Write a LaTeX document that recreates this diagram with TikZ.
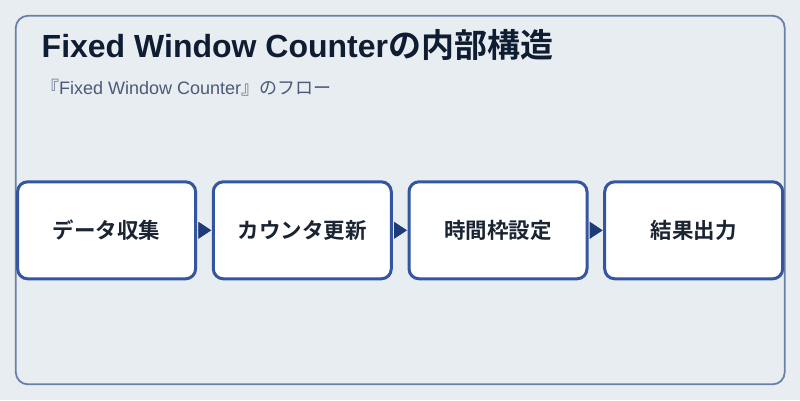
\documentclass[tikz,border=0pt]{standalone}
\usepackage{fontspec}
\setmainfont{Liberation Sans}
\newfontfamily\cjk{Noto Sans CJK JP}[BoldFont={* Bold}]
\usetikzlibrary{arrows.meta}
\definecolor{bgc}{HTML}{E8EDF2}
\definecolor{framec}{HTML}{6A80AA}
\definecolor{boxc}{HTML}{3456A0}
\definecolor{arrc}{HTML}{1F3A78}
\definecolor{titlec}{HTML}{0F1D33}
\definecolor{subc}{HTML}{4A5A78}
\definecolor{txtc}{HTML}{1A2433}
\tikzset{
  stepbox/.style={draw=boxc, line width=3pt, fill=white, rounded corners=10pt,
    minimum width=178pt, minimum height=97pt, inner sep=0pt,
    font=\cjk\fontsize{21.5pt}{26pt}\selectfont\bfseries, text=txtc},
  flow/.style={arrc, line width=0.8pt, -{Triangle[length=13pt,width=17pt]}, shorten <=1pt, shorten >=0.5pt}
}
\begin{document}
\begin{tikzpicture}[x=1pt,y=-1pt]
\fill[bgc] (0,0) rectangle (800,400);
\useasboundingbox (0,0) rectangle (800,400);
\draw[framec, line width=1.8pt, fill=bgc, rounded corners=12pt] (15.8,15.8) rectangle (784.7,384.3);
\node[anchor=base west, inner sep=0pt, text=titlec, font=\fontsize{32pt}{36pt}\selectfont\bfseries] (title) at (41.5,57) {Fixed Window Counter{\cjk\fontsize{33pt}{36pt}\selectfont の内部構造}};
\node[anchor=base west, inner sep=0pt, text=subc, font=\fontsize{18pt}{22pt}\selectfont] (sub) at (41,94) {{\cjk 『}Fixed Window Counter{\cjk 』のフロー}};
\node[stepbox] (s1) at (106.6,230.3) {データ収集};
\node[stepbox] (s2) at (302.3,230.3) {カウンタ更新};
\node[stepbox] (s3) at (498,230.3) {時間枠設定};
\node[stepbox] (s4) at (693.7,230.3) {結果出力};
\draw[flow] (s1.east) -- (s2.west);
\draw[flow] (s2.east) -- (s3.west);
\draw[flow] (s3.east) -- (s4.west);
\end{tikzpicture}
\end{document}
